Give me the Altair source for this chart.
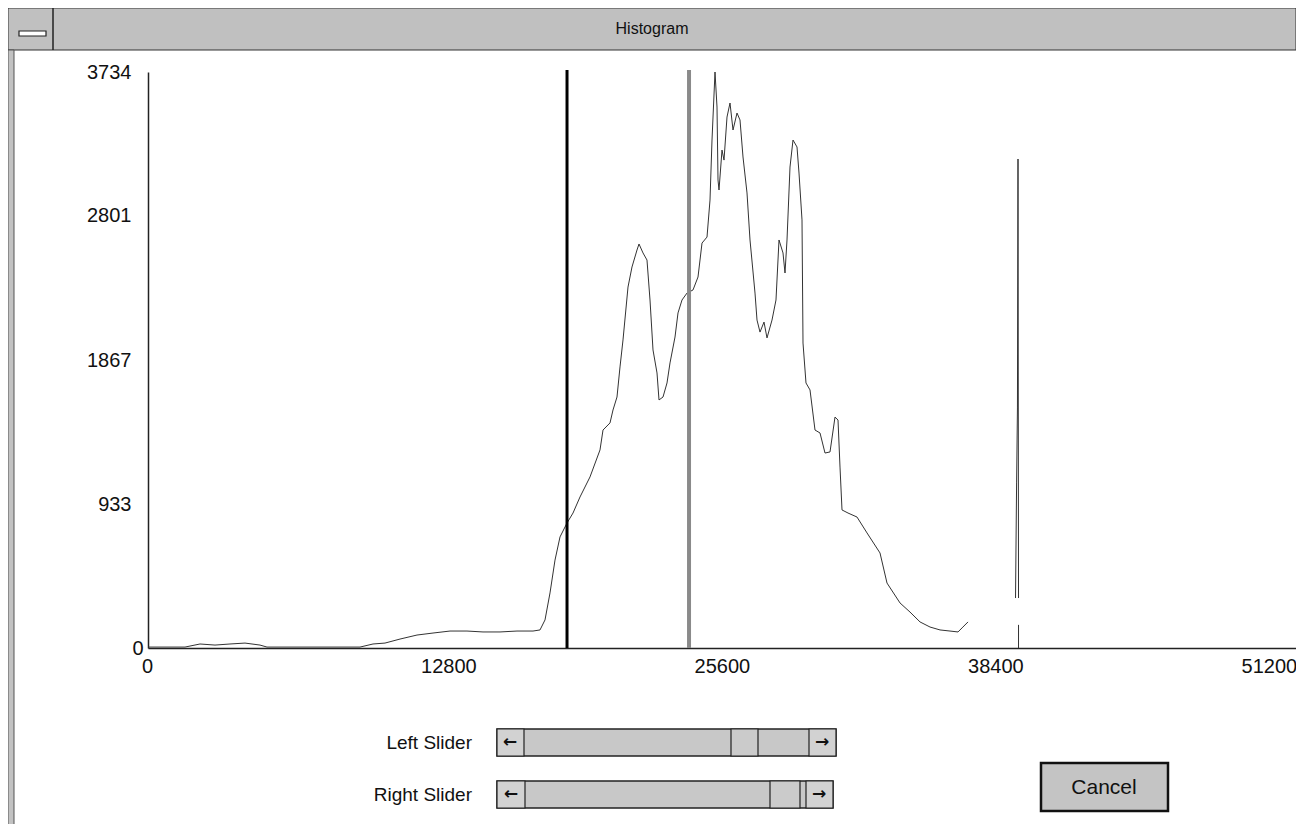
import altair as alt
import pandas as pd

# ---------------- data ----------------
bins = [0, 1732, 2434, 3136, 3838, 4540, 5242, 5569, 7114, 8518, 9922, 10530, 11092,
        11794, 12589, 13338, 14134, 14929, 15678, 16474, 17269, 18018, 18346, 18580,
        18814, 19048, 19282, 19609, 19890, 20218, 20686, 21154, 21294, 21622, 21762,
        21949, 22090, 22230, 22464, 22651, 22885, 22979, 23166, 23353, 23494, 23634,
        23821, 23915, 24102, 24289, 24430, 24664, 24804, 24991, 25225, 25506, 25740,
        25927, 26161, 26302, 26395, 26536, 26629, 26676, 26723, 26863, 26957, 27097,
        27238, 27378, 27565, 27706, 27846, 28033, 28174, 28408, 28501, 28642, 28829,
        28969, 29203, 29390, 29531, 29718, 29812, 29905, 30046, 30186, 30373, 30467,
        30607, 30654, 30794, 30982, 31216, 31450, 31684, 31918, 32152, 32292, 32386,
        32479, 32760, 33181, 33649, 34258, 34585, 35194, 35662, 36130, 36598, 37066,
        37534, 37908, 38095, 38376]
counts = [6, 6, 26, 19, 26, 32, 19, 6, 6, 6, 6, 26, 32,
          58, 84, 97, 110, 110, 104, 104, 110, 110, 117, 182,
          357, 570, 720, 810, 875, 979, 1109, 1284, 1413, 1459, 1543,
          1627, 1822, 1997, 2340, 2470, 2580, 2619, 2561, 2515, 2256, 1932,
          1783, 1608, 1627, 1718, 1848, 2016, 2172, 2256, 2301, 2321, 2405,
          2625, 2664, 2904, 3293, 3734, 3507, 3034, 2969, 3228, 3163, 3442,
          3533, 3358, 3468, 3423, 3183, 2950, 2645, 2301, 2126, 2048, 2113,
          2010, 2126, 2256, 2645, 2561, 2431, 2645, 3118, 3293, 3248, 3079,
          2775, 1977, 1718, 1673, 1413, 1394, 1264, 1271, 1497, 1478, 1173,
          895, 875, 849, 746, 616, 421, 292, 233, 169, 136, 117,
          110, 104, 130, 169]

spike_bins = [40600, 40650, 40690, 40716, 40740]
spike_counts = [324, 1070, 1556, 3170, 324]
foot_bins = [40740, 40740]
foot_counts = [150, 0]

slider_names = ["Left", "Right"]
slider_values = [19610, 25320]

x_ticks = [0, 12800, 25600, 38400, 51200]
y_ticks = [0, 933, 1867, 2801, 3734]
x_max = 53726
y_max = 3734

# ---------------- tables ----------------
rows = []
for seg, xs, ys in (("main", bins, counts), ("spike", spike_bins, spike_counts),
                    ("foot", foot_bins, foot_counts)):
    for i, (a, b) in enumerate(zip(xs, ys)):
        rows.append({"seg": seg, "i": i, "value": a, "count": b})
hist = pd.DataFrame(rows)
sliders = pd.DataFrame({"name": slider_names, "value": slider_values})
one = pd.DataFrame({"k": [0]})

FONT = "Liberation Sans, Arial, Helvetica, sans-serif"
W, H = 1148, 576
OX, OY = 148, 72  # page position of plot origin


def px(v):
    return v - OX


def py(v):
    return v - OY


def rect(x1, x2, y1, y2, fill, stroke="#222222", sw=1.0):
    return alt.Chart(one).mark_rect(fill=fill, stroke=stroke, strokeWidth=sw).encode(
        x=alt.value(px(x1)), x2=alt.value(px(x2)), y=alt.value(py(y1)), y2=alt.value(py(y2)))


def vline(x, y1, y2, color="#111111", sw=1.5):
    return alt.Chart(one).mark_rule(color=color, strokeWidth=sw).encode(
        x=alt.value(px(x)), y=alt.value(py(y1)), y2=alt.value(py(y2)))


def label(txt, x, y, size, align="center", weight="normal", color="#111111", font=FONT):
    return alt.Chart(one).mark_text(text=txt, fontSize=size, font=font, align=align,
                                    baseline="middle", fontWeight=weight, color=color).encode(
        x=alt.value(px(x)), y=alt.value(py(y)))


# ---------------- plot ----------------
x_enc = alt.X("value:Q", title=None,
              scale=alt.Scale(domain=[0, x_max], nice=False, zero=True),
              axis=alt.Axis(values=x_ticks, format="d", ticks=False, grid=False,
                            domainColor="#222222", domainWidth=1.5, labelFlush=False,
                            labelAlign={"condition": {"test": "datum.value === 0", "value": "center"},
                                        "value": "left"},
                            labelOffset=-1, labelBaseline="top", labelPadding=8,
                            labelFontSize=20, labelFont=FONT, labelColor="#111111"))
y_enc = alt.Y("count:Q", title=None,
              scale=alt.Scale(domain=[0, y_max], nice=False),
              axis=alt.Axis(values=y_ticks, format="d", ticks=False, grid=False,
                            domainColor="#222222", domainWidth=1.5, labelFlush=False,
                            labelPadding={"condition": {"test": "datum.value === 0", "value": 5},
                                          "value": 17},
                            labelFontSize=20, labelFont=FONT, labelColor="#111111"))

line = alt.Chart(hist).mark_line(color="#333333", strokeWidth=1).encode(
    x=x_enc, y=y_enc, detail="seg:N", order="i:Q")

rules = alt.Chart(sliders).mark_rule().encode(
    x="value:Q",
    y=alt.value(-2), y2=alt.value(H),
    color=alt.Color("name:N", scale=alt.Scale(domain=slider_names, range=["#000000", "#8a8a8a"]),
                    legend=None),
    strokeWidth=alt.StrokeWidth("name:N", scale=alt.Scale(domain=slider_names, range=[3, 4]),
                                legend=None))

# ---------------- dialog chrome ----------------
ARROW_FONT = "DejaVu Sans, sans-serif"
chrome = [
    rect(8, 1296, 8, 50, "#c0c0c0", "#333333", 1),
    vline(53, 8, 50, "#222222", 1.5),
    rect(19, 46, 31, 36, "#ffffff", "#222222", 1.2),
    label("Histogram", 652, 29, 16),
    rect(8, 14, 50, 826, "#c2c2c2", "#555555", 1),
    # sliders
    label("Left Slider", 472, 743, 19, align="right"),
    label("Right Slider", 472, 795, 19, align="right"),
    rect(497, 836, 729, 756, "#c8c8c8", "#222222", 1.5),
    rect(497, 524, 729, 756, "#d2d2d2", "#222222", 1.2),
    rect(809, 836, 729, 756, "#d2d2d2", "#222222", 1.2),
    rect(731, 758, 729, 756, "#cbcbcb", "#222222", 1.2),
    label("\u2190", 510, 742, 17, weight="bold", font=ARROW_FONT),
    label("\u2192", 822, 742, 17, weight="bold", font=ARROW_FONT),
    rect(497, 833, 781, 808, "#c8c8c8", "#222222", 1.5),
    rect(497, 525, 781, 808, "#d2d2d2", "#222222", 1.2),
    rect(806, 833, 781, 808, "#d2d2d2", "#222222", 1.2),
    rect(770, 800, 781, 808, "#cbcbcb", "#222222", 1.2),
    label("\u2190", 511, 794, 17, weight="bold", font=ARROW_FONT),
    label("\u2192", 819, 794, 17, weight="bold", font=ARROW_FONT),
    # cancel button
    rect(1041, 1168, 763, 811, "#c4c4c4", "#111111", 2.5),
    label("Cancel", 1104, 788, 21),
]

chart = alt.layer(*chrome, line, rules).properties(
    width=W, height=H,
    background="#ffffff",
    autosize=alt.AutoSizeParams(type="none"),
    padding={"left": 140, "top": 64, "right": 0, "bottom": 176},
).configure_view(strokeWidth=0, stroke="transparent")

chart.save("out.html", embed_options={"renderer": "svg", "actions": False})
